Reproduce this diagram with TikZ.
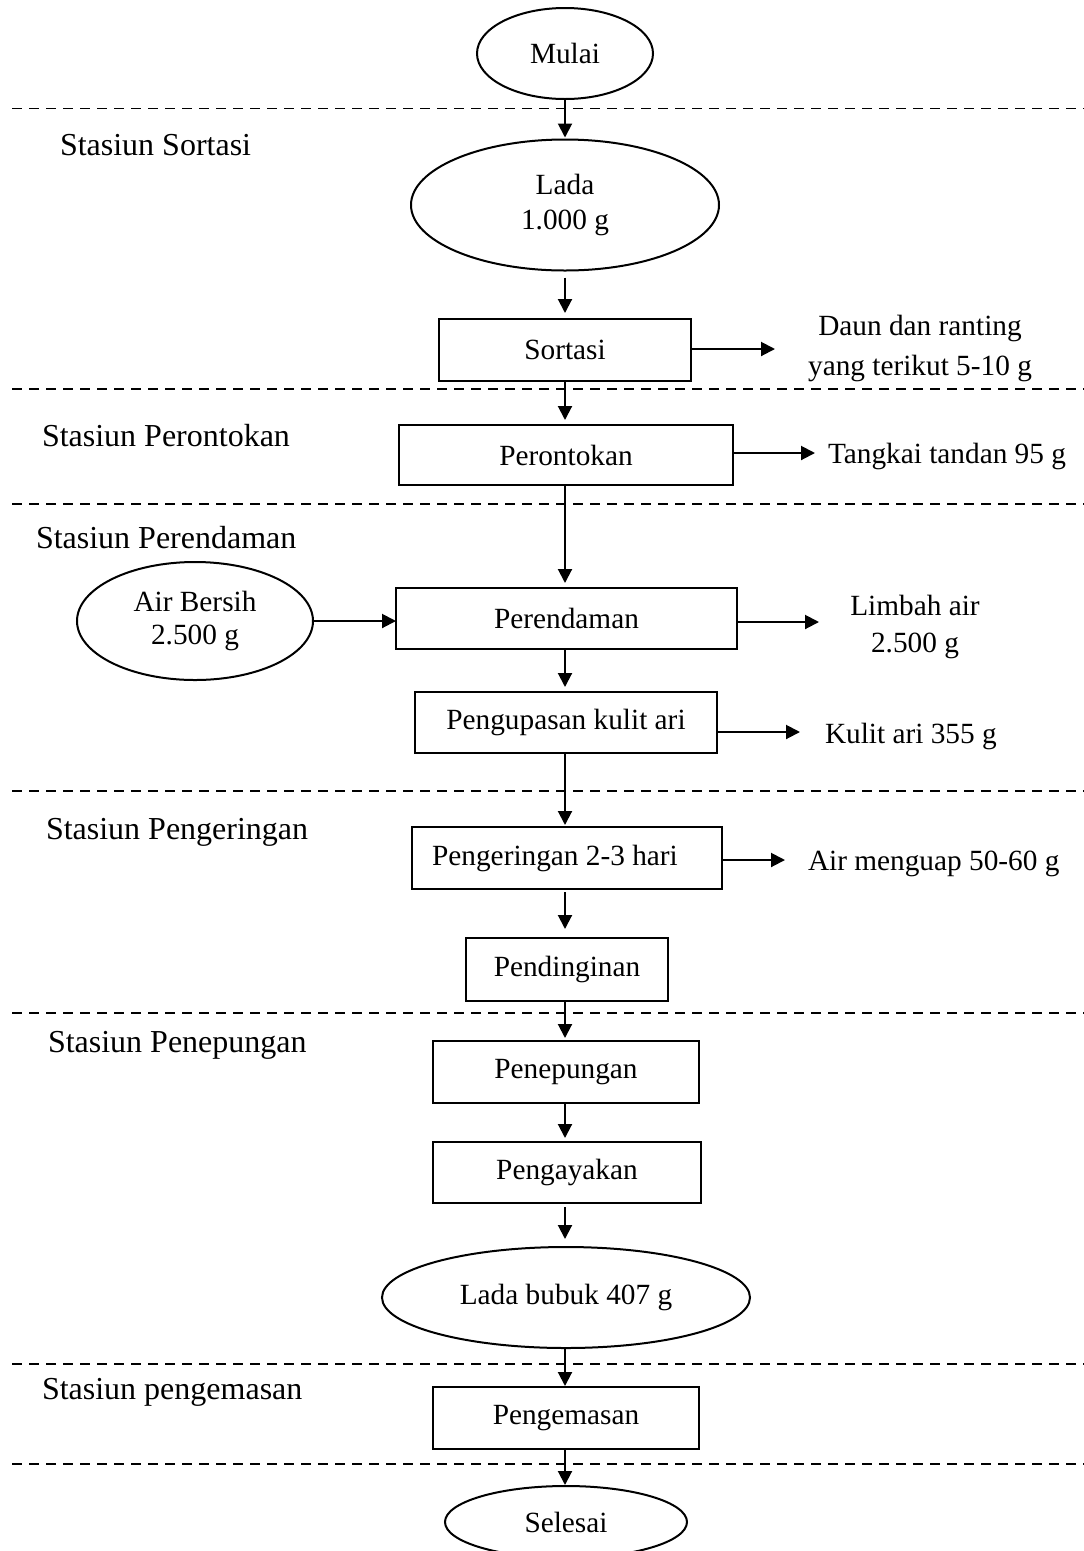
\documentclass[tikz,border=0pt]{standalone}
\usepackage{fontspec}
\setmainfont{Liberation Serif}
\usetikzlibrary{shapes.geometric,arrows.meta}
\begin{document}
\begin{tikzpicture}[x=1pt,y=-1pt,
  every node/.style={font=\fontsize{29.3}{35}\selectfont, inner sep=0pt, outer sep=0pt},
  box/.style={draw, line width=2pt, rectangle},
  oval/.style={draw, line width=2pt, ellipse},
  lbl/.style={anchor=west, font=\fontsize{32}{38}\selectfont},
  outtxt/.style={anchor=west},
  arr/.style={line width=2pt, -{Triangle[length=14pt,width=14pt]}},
  sep/.style={line width=1.8pt, dash pattern=on 10pt off 7pt}]
\useasboundingbox (0,0) rectangle (1084,1551);

% station separators
\foreach \yy/\nm in {108.5/s1,389/s2,504/s3,791/s4,1013/s5,1364/s6,1464/s7}{
  \coordinate (\nm a) at (12,\yy);
  \coordinate (\nm b) at (1084,\yy);
  \draw[sep] (\nm a) -- (\nm b);
}

% station labels
\node[lbl] (st1) at (60,145) {Stasiun Sortasi};
\node[lbl] (st2) at (42,436) {Stasiun Perontokan};
\node[lbl] (st3) at (36,538) {Stasiun Perendaman};
\node[lbl] (st4) at (46,832) {Stasiun Pengeringan};
\node[lbl] (st5) at (48,1045) {Stasiun Penepungan};
\node[lbl] (st6) at (42,1392) {Stasiun pengemasan};

% main flow
\node[oval, minimum width=176pt, minimum height=91pt] (mulai) at (565,53.5) {Mulai};
\node[oval, minimum width=308pt, minimum height=131pt, align=center, font=\fontsize{29.3}{35}\selectfont] (lada) at (565,205) {Lada\\1.000 g};
\node[box, minimum width=252pt, minimum height=62pt] (sortasi) at (565,350) {Sortasi};
\node[box, minimum width=334pt, minimum height=60pt] (peront) at (566,455) {Perontokan};
\node[box, minimum width=341pt, minimum height=61pt] (perend) at (566.5,618.5) {Perendaman};
\node[box, minimum width=302pt, minimum height=61pt] (pengup) at (566,722.5) {Pengupasan kulit ari};
\node[box, minimum width=310pt, minimum height=62pt] (penger) at (567,858) {Pengeringan 2-3 hari\hspace*{24pt}};
\node[box, minimum width=202pt, minimum height=63pt] (pendin) at (567,969.5) {Pendinginan};
\node[box, minimum width=266pt, minimum height=62pt] (penep) at (566,1072) {Penepungan};
\node[box, minimum width=268pt, minimum height=61pt] (pengay) at (567,1172.5) {Pengayakan};
\node[oval, minimum width=368pt, minimum height=101pt] (bubuk) at (566,1297.5) {Lada bubuk 407 g};
\node[box, minimum width=266pt, minimum height=62pt] (pengem) at (566,1418) {Pengemasan};
\node[oval, minimum width=242pt, minimum height=72pt] (selesai) at (566,1522) {Selesai};

% inputs
\node[oval, minimum width=236pt, minimum height=118pt, align=center, font=\fontsize{29.3}{33}\selectfont] (air) at (195,621) {Air Bersih\\2.500 g};

% outputs
\node[align=center, font=\fontsize{29.3}{40}\selectfont] (daun) at (920,348) {Daun dan ranting\\yang terikut 5-10 g};
\node[outtxt] (tangkai) at (828,456) {Tangkai tandan 95 g};
\node[align=center, font=\fontsize{29.3}{37}\selectfont] (limbah) at (915,627) {Limbah air\\2.500 g};
\node[outtxt] (kulit) at (825,736) {Kulit ari 355 g};
\node[outtxt] (menguap) at (808,864) {Air menguap 50-60 g};

\coordinate (e1) at (775,349);
\coordinate (e2) at (815,453);
\coordinate (e3) at (819,622);
\coordinate (e4) at (800,732);
\coordinate (e5) at (785,860);

% vertical arrows
\draw[arr, shorten >=2pt] (mulai.south) -- (mulai.south |- lada.north);
\draw[arr, shorten <=7pt, shorten >=6pt] (lada.south) -- (lada.south |- sortasi.north);
\draw[arr, shorten >=5pt] (sortasi.south) -- (sortasi.south |- peront.north);
\draw[arr, shorten >=5pt] (sortasi.south |- peront.south) -- (sortasi.south |- perend.north);
\draw[arr, shorten >=5pt] (sortasi.south |- perend.south) -- (sortasi.south |- pengup.north);
\draw[arr, shorten >=2pt] (sortasi.south |- pengup.south) -- (sortasi.south |- penger.north);
\draw[arr, shorten <=3pt, shorten >=9pt] (sortasi.south |- penger.south) -- (sortasi.south |- pendin.north);
\draw[arr, shorten >=3pt] (sortasi.south |- pendin.south) -- (sortasi.south |- penep.north);
\draw[arr, shorten >=4pt] (sortasi.south |- penep.south) -- (sortasi.south |- pengay.north);
\draw[arr, shorten <=4pt, shorten >=8pt] (sortasi.south |- pengay.south) -- (sortasi.south |- bubuk.north);
\draw[arr, shorten >=1pt] (sortasi.south |- bubuk.south) -- (sortasi.south |- pengem.north);
\draw[arr, shorten >=1pt] (sortasi.south |- pengem.south) -- (sortasi.south |- selesai.north);

% side arrows
\draw[arr] (air.east) -- (perend.west |- air.east);
\draw[arr] (sortasi.east |- e1) -- (e1);
\draw[arr] (peront.east |- e2) -- (e2);
\draw[arr] (perend.east |- e3) -- (e3);
\draw[arr] (pengup.east |- e4) -- (e4);
\draw[arr] (penger.east |- e5) -- (e5);
\end{tikzpicture}
\end{document}
